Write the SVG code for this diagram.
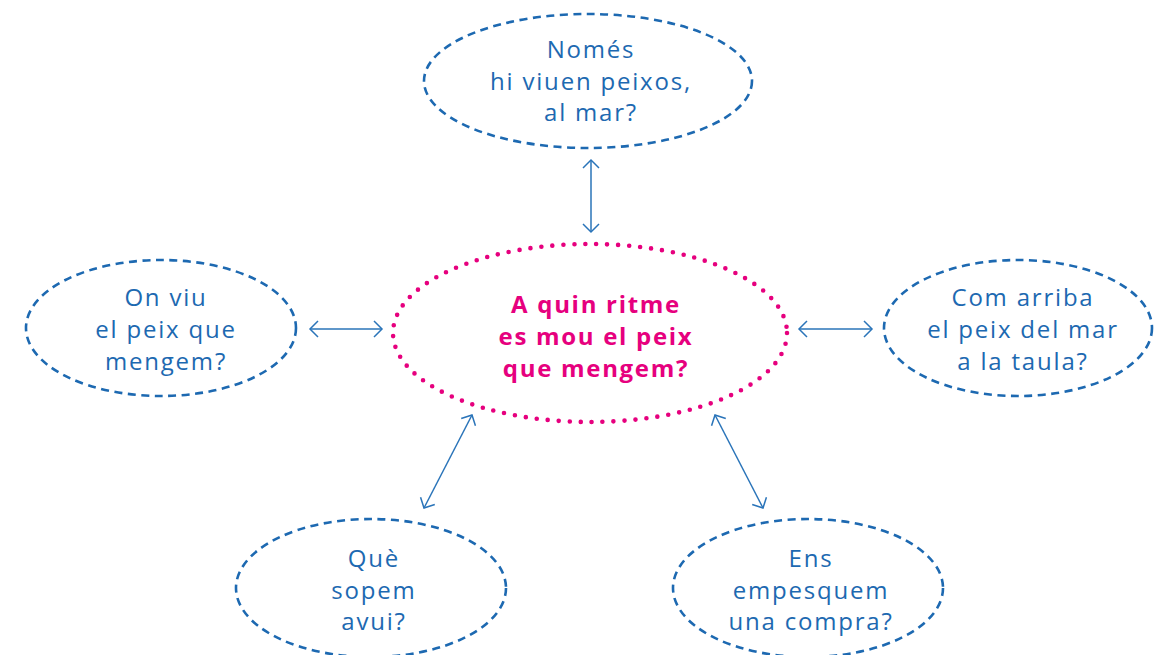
<svg xmlns="http://www.w3.org/2000/svg" width="1154" height="655" viewBox="0 0 1154 655">
<defs>
<style>
.q{fill:none;stroke:#1d69b1;stroke-width:2.6;stroke-dasharray:8 5.5}
.c{fill:none;stroke:#e6007e;stroke-width:4.6;stroke-dasharray:0 11;stroke-linecap:round}
.t{font-family:"Open Sans","Noto Sans",sans-serif;font-size:24px;letter-spacing:1.8px;fill:#1d69b1;text-anchor:middle}
.m{font-family:"Open Sans","Noto Sans",sans-serif;font-size:24px;letter-spacing:1.7px;font-weight:bold;fill:#e6007e;text-anchor:middle}
.a{stroke:#2a74b9;stroke-width:1.5;fill:none;marker-start:url(#h);marker-end:url(#h)}
</style>
<marker id="h" markerUnits="userSpaceOnUse" viewBox="-10 -10 20 20" markerWidth="20" markerHeight="20" refX="0" refY="0" orient="auto-start-reverse">
<path d="M-8,-8 L0,0 L-8,8" fill="none" stroke="#2a74b9" stroke-width="1.5"/>
</marker>
</defs>
<rect width="1154" height="655" fill="#fff"/>
<g id="connectors">
<line class="a" x1="591" y1="160" x2="591" y2="232"/>
<line class="a" x1="310" y1="329" x2="382" y2="329"/>
<line class="a" x1="799" y1="329" x2="872" y2="329"/>
<line class="a" x1="472" y1="415" x2="424" y2="508"/>
<line class="a" x1="715" y1="415" x2="763" y2="508"/>
</g>
<g id="center">
<ellipse class="c" cx="590" cy="333" rx="197" ry="89"/>
<text class="m" x="596" y="313">A quin ritme</text>
<text class="m" x="596" y="345">es mou el peix</text>
<text class="m" x="596" y="377">que mengem?</text>
</g>
<g id="top">
<ellipse class="q" cx="588" cy="81" rx="164" ry="67"/>
<text class="t" x="591" y="58">Només</text>
<text class="t" x="591" y="90">hi viuen peixos,</text>
<text class="t" x="591" y="121">al mar?</text>
</g>
<g id="left">
<ellipse class="q" cx="161" cy="328" rx="135" ry="68"/>
<text class="t" x="166" y="306">On viu</text>
<text class="t" x="166" y="338">el peix que</text>
<text class="t" x="166" y="370">mengem?</text>
</g>
<g id="right">
<ellipse class="q" cx="1018" cy="328" rx="134" ry="68"/>
<text class="t" x="1023" y="306">Com arriba</text>
<text class="t" x="1023" y="338">el peix del mar</text>
<text class="t" x="1023" y="370">a la taula?</text>
</g>
<g id="bottom-left">
<ellipse class="q" cx="371" cy="588" rx="135" ry="69"/>
<text class="t" x="374" y="567">Què</text>
<text class="t" x="374" y="599">sopem</text>
<text class="t" x="374" y="630">avui?</text>
</g>
<g id="bottom-right">
<ellipse class="q" cx="808" cy="588" rx="135" ry="69"/>
<text class="t" x="811" y="567">Ens</text>
<text class="t" x="811" y="599">empesquem</text>
<text class="t" x="811" y="630">una compra?</text>
</g>
</svg>
